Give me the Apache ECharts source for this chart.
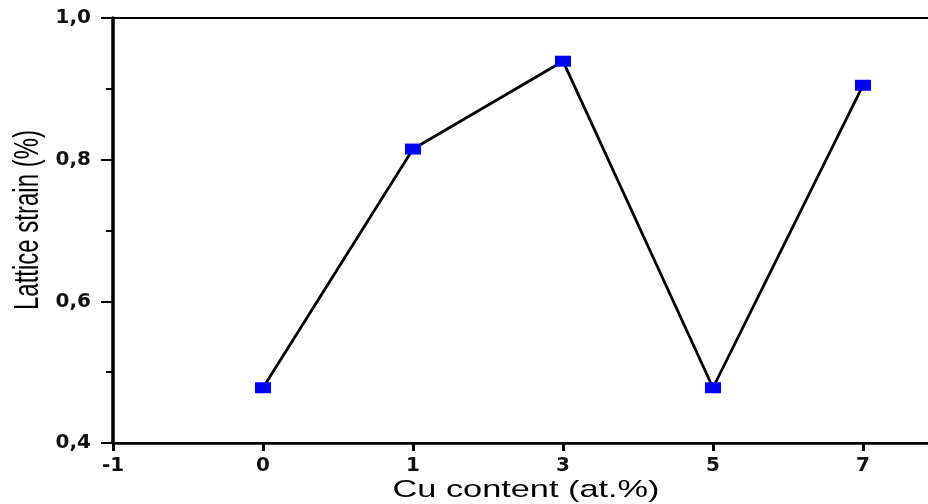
<!DOCTYPE html>
<html>
<head>
<meta charset="utf-8">
<script src="https://cdn.jsdelivr.net/npm/echarts@6/dist/echarts.min.js"></script>
<style>html,body{margin:0;padding:0;background:#fff;}#c{width:928px;height:504px;}</style>
</head>
<body>
<div id="c"></div>
<script>
var categories = ['-1', '0', '1', '3', '5', '7', ''];
var strainValues = [null, 0.478, 0.815, 0.939, 0.478, 0.905, null];
var yTicks = { min: 0.4, max: 1.0, interval: 0.2 };
var xName = 'Cu content (at.%)';
var yName = 'Lattice strain (%)';

var chart = echarts.init(document.getElementById('c'), null, { renderer: 'canvas' });
chart.setOption({
  animation: false,
  backgroundColor: '#fff',
  grid: {
    left: 113, top: 18, width: 900, bottom: 61,
    containLabel: false, outerBoundsMode: 'none',
    show: true, borderColor: '#000', borderWidth: 2, backgroundColor: 'transparent'
  },
  xAxis: {
    type: 'category',
    data: categories,
    boundaryGap: false,
    axisLine: { lineStyle: { color: '#000', width: 2.5 } },
    axisTick: { show: true, inside: false, length: 8, alignWithLabel: true, lineStyle: { color: '#000', width: 3 } },
    axisLabel: { color: '#111', fontFamily: 'DejaVu Sans', fontWeight: 'bold', fontSize: 20, margin: 13, interval: 0 },
    splitLine: { show: false }
  },
  yAxis: {
    type: 'value',
    min: yTicks.min, max: yTicks.max, interval: yTicks.interval,
    axisLine: { show: true, lineStyle: { color: '#000', width: 3.5 } },
    axisTick: { show: true, inside: false, length: 12, lineStyle: { color: '#000', width: 2 } },
    minorTick: { show: true, splitNumber: 2, length: 7, lineStyle: { color: '#000', width: 2 } },
    axisLabel: {
      color: '#111', fontFamily: 'DejaVu Sans', fontWeight: 'bold', fontSize: 20, margin: 22,
      formatter: function (v) { return v.toFixed(1).replace('.', ','); }
    },
    splitLine: { show: false }
  },
  series: [{
    type: 'line',
    data: strainValues,
    connectNulls: false,
    symbol: 'rect',
    symbolSize: [16, 11],
    showAllSymbol: true,
    itemStyle: { color: '#0000ff', borderWidth: 0 },
    lineStyle: { color: '#000', width: 2.8 },
    emphasis: { disabled: true }
  }],
  graphic: [
    {
      type: 'text',
      x: 526, y: 490,
      scaleX: 1.43,
      style: {
        text: xName, fill: '#000', font: '24px "Liberation Sans", Arial, sans-serif',
        textAlign: 'center', textVerticalAlign: 'middle'
      }
    },
    {
      type: 'text',
      x: 29, y: 220,
      rotation: Math.PI / 2,
      scaleY: 1.43,
      style: {
        text: yName, fill: '#000', font: '24px "Liberation Sans", Arial, sans-serif',
        textAlign: 'center', textVerticalAlign: 'middle'
      }
    }
  ]
});
</script>
</body>
</html>
